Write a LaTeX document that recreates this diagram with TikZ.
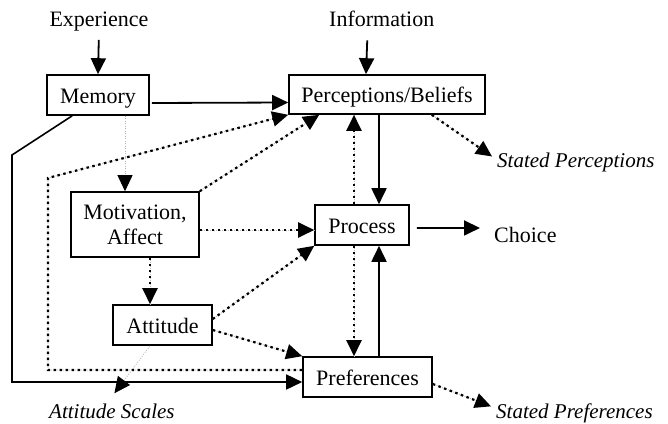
\documentclass[tikz,border=0pt]{standalone}
\usepackage{fontspec}
\setmainfont{Liberation Serif}
\usetikzlibrary{arrows.meta,calc}
\begin{document}
\begin{tikzpicture}[x=1pt,y=-1pt,
  every node/.style={font=\fontsize{22}{25}\selectfont},
  box/.style={draw,line width=1.6pt,inner sep=0pt,align=center},
  onebox/.style={box,text height=16pt,text depth=0pt},
  txt/.style={inner sep=0pt},
  lbl/.style={inner sep=0pt,font=\fontsize{21}{25}\selectfont\itshape},
  tip/.style={-{Triangle[length=16pt,width=15pt,color=black]}},
  solidarrow/.style={tip,line width=1.8pt},
  dotarrow/.style={tip,line width=2.2pt,draw=black,dash pattern=on 2.5pt off 3.5pt,
    preaction={draw=gray!55,line width=0.8pt,dash pattern=on 1pt off 1pt,-}},
  faintarrow/.style={tip,line width=0.8pt,draw=gray!60,dash pattern=on 1pt off 1.5pt}
]
\useasboundingbox (0,0) rectangle (668,423);
% boxes
\node[onebox,minimum width=102pt,minimum height=40pt] (mem) at (98,95) {Memory};
\node[onebox,minimum width=196pt,minimum height=39pt] (perc) at (387,94.5) {Perceptions/Beliefs};
\node[box,minimum width=128pt,minimum height=65pt] (mot) at (135,224.5) {Motivation,\\Affect};
\node[onebox,minimum width=94pt,minimum height=40pt] (proc) at (362,225) {Process};
\node[onebox,minimum width=99pt,minimum height=40pt] (att) at (162.5,325) {Attitude};
\node[onebox,minimum width=129pt,minimum height=40pt] (pref) at (367.5,377) {Preferences};
% texts
\node[txt,anchor=base] (exp) at (99,26) {Experience};
\node[txt,anchor=base west] (info) at (329,26) {Information};
\node[txt,anchor=base west] (choice) at (494,242) {Choice};
\node[lbl,anchor=base west] (stperc) at (497,167) {Stated Perceptions};
\node[lbl,anchor=base west] (stpref) at (496,418) {Stated Preferences};
\node[lbl,anchor=base west] (scales) at (49,418) {Attitude Scales};
% helper coordinates
\coordinate (c1) at (48,178);
\coordinate (c2) at (12,155);
% solid connectors
\draw[solidarrow,shorten <=9pt] (exp.south) -- (mem.north);
\draw[solidarrow,shorten <=14pt] ($(info.south)+(-14,0)$) -- ($(perc.north)+(-21,0)$);
\draw[solidarrow,shorten <=2pt] ($(mem.east)+(0,8)$) -- ($(perc.west)+(0,8)$);
\draw[line width=1.6pt,tip] ($(mem.south west)+(26,0)$) -- (c2) |- ($(pref.west)+(0,5)$);
\draw[solidarrow] ($(perc.south)+(-8,0)$) -- ($(proc.north)+(17,0)$);
\draw[solidarrow] ($(pref.north)+(11.5,0)$) -- ($(proc.south)+(17,0)$);
\draw[solidarrow,shorten <=7pt] ($(proc.east)+(0,3)$) -- ($(choice.west)+(-14,-6.5)$);
% dotted connectors
\draw[faintarrow] ($(mem.south)+(27,0)$) -- ($(mot.north)+(-10,0)$);
\draw[dotarrow] ($(pref.west)+(0,-7)$) -| (c1) -- (perc.south west);
\draw[dotarrow] (mot.north east) -- ($(perc.south west)+(31,0)$);
\draw[dotarrow] ($(mot.east)+(0,5.5)$) -- ($(proc.west)+(0,5)$);
\draw[dotarrow] ($(mot.south)+(15,0)$) -- ($(att.north)+(-12.5,0)$);
\draw[dotarrow] ($(att.east)+(0,-6)$) -- (proc.south west);
\draw[dotarrow] ($(att.east)+(0,5)$) -- (pref.north west);
\draw[faintarrow] ($(att.south)+(-12.5,0)$) -- ($(scales.north)+(2.5,-10)$);
\draw[dotarrow] ($(proc.north)+(-8,0)$) -- ($(perc.south)+(-33,0)$);
\draw[dotarrow] ($(proc.south)+(-8,0)$) -- ($(pref.north)+(-13.5,0)$);
\draw[dotarrow] ($(perc.south east)+(-54,0)$) -- ($(stperc.west)+(-5,-5.5)$);
\draw[dotarrow] ($(pref.east)+(0,7)$) -- ($(stpref.west)+(-5,-6.5)$);
\end{tikzpicture}
\end{document}
